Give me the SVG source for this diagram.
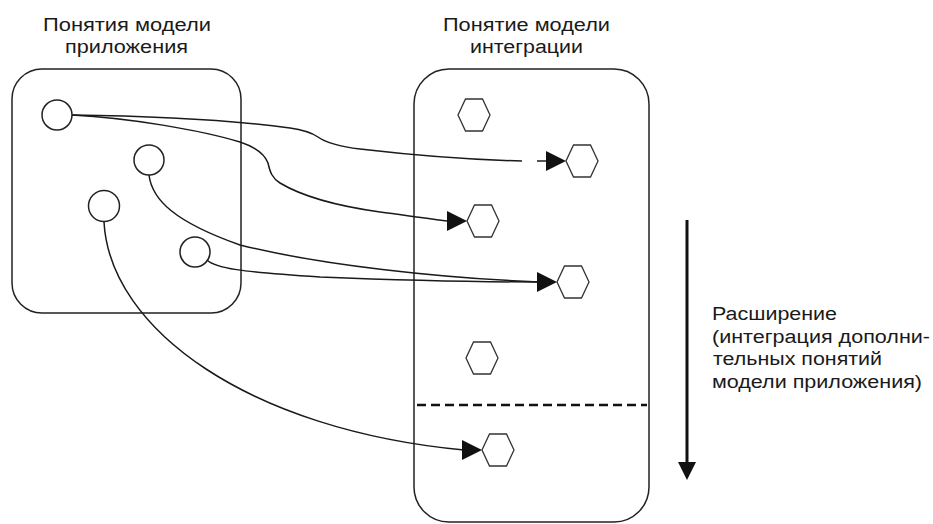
<svg xmlns="http://www.w3.org/2000/svg" xmlns:xlink="http://www.w3.org/1999/xlink" width="933" height="524" viewBox="0 0 933 524">
  <style>
    .box { fill: none; stroke: #222; stroke-width: 1.5; }
    .circ { fill: #fff; stroke: #222; stroke-width: 1.5; }
    .hex { fill: #fff; stroke: #333; stroke-width: 1.3; }
    .wire { fill: none; stroke: #1a1a1a; stroke-width: 1.5; }
    .head { fill: #111; stroke: none; }
    .lbl { font-family: "Liberation Sans", Arial, sans-serif; font-size: 18px; fill: #1a1a1a; }
    .dash { stroke: #111; stroke-width: 2.5; stroke-dasharray: 9 5; }
  </style>
  <defs>
    <polygon id="hexshape" class="hex" points="-16,0 -8.5,-16 8.5,-16 16,0 8.5,16 -8.5,16"/>
    <polygon id="tri" class="head" points="0,0 -20,-10 -20,10"/>
  </defs>

  <rect width="933" height="524" fill="#fff"/>

  <!-- application model container -->
  <g id="app-model">
    <rect class="box" x="12" y="69" width="229" height="244" rx="30" ry="30"/>
    <text class="lbl" x="43" y="31" textLength="168" lengthAdjust="spacingAndGlyphs">Понятия модели</text>
    <text class="lbl" x="65" y="53" textLength="123" lengthAdjust="spacingAndGlyphs">приложения</text>
  </g>

  <!-- integration model container -->
  <g id="int-model">
    <rect class="box" x="414" y="69" width="235" height="453" rx="35" ry="35"/>
    <text class="lbl" x="443" y="31" textLength="167" lengthAdjust="spacingAndGlyphs">Понятие модели</text>
    <text class="lbl" x="470" y="53" textLength="113" lengthAdjust="spacingAndGlyphs">интеграции</text>
    <line class="dash" x1="417" y1="405" x2="647" y2="405"/>
  </g>

  <!-- connectors -->
  <g id="connectors">
    <path class="wire" d="M72,115 C150,116 230,120 290,128 C305,130 312,133 318,137 C325,142 335,146 360,149 C420,156 480,160 522,161"/>
    <path class="wire" d="M537,161 L548,161"/>
    <use xlink:href="#tri" x="566" y="161"/>

    <path class="wire" d="M72,115 C130,118 200,130 240,142 C255,147 265,155 268,163 C270,172 272,178 280,183 C300,195 330,205 380,212 C410,216 430,219 448,221"/>
    <use xlink:href="#tri" x="467" y="221"/>

    <path class="wire" d="M149,175 C152,200 175,222 240,245 C320,265 440,278 539,282"/>
    <path class="wire" d="M207,260 C215,268 240,272 320,277 C420,281 480,282 539,282"/>
    <use xlink:href="#tri" x="557" y="282"/>

    <path class="wire" d="M104,222 C110,330 250,430 464,450"/>
    <use xlink:href="#tri" x="482" y="450"/>
  </g>

  <!-- application concepts -->
  <g id="c1"><circle class="circ" cx="57" cy="115" r="15"/></g>
  <g id="c2"><circle class="circ" cx="149" cy="160" r="15"/></g>
  <g id="c3"><circle class="circ" cx="104" cy="206" r="15.5"/></g>
  <g id="c4"><circle class="circ" cx="195" cy="252" r="15"/></g>

  <!-- integration concepts -->
  <g id="h1"><use xlink:href="#hexshape" x="474" y="115"/></g>
  <g id="h2"><use xlink:href="#hexshape" x="582" y="161"/></g>
  <g id="h3"><use xlink:href="#hexshape" x="483" y="221"/></g>
  <g id="h4"><use xlink:href="#hexshape" x="573" y="282"/></g>
  <g id="h5"><use xlink:href="#hexshape" x="482" y="358"/></g>
  <g id="h6"><use xlink:href="#hexshape" x="498" y="450"/></g>

  <!-- extension direction -->
  <g id="extension">
    <line x1="687" y1="220" x2="687" y2="464" stroke="#111" stroke-width="3"/>
    <polygon class="head" points="678,462 696,462 687,480"/>
    <text class="lbl" x="712" y="320" textLength="125" lengthAdjust="spacingAndGlyphs">Расширение</text>
    <text class="lbl" x="712" y="343" textLength="218" lengthAdjust="spacingAndGlyphs">(интеграция дополни-</text>
    <text class="lbl" x="713" y="365" textLength="169" lengthAdjust="spacingAndGlyphs">тельных понятий</text>
    <text class="lbl" x="712" y="388" textLength="210" lengthAdjust="spacingAndGlyphs">модели приложения)</text>
  </g>
</svg>
